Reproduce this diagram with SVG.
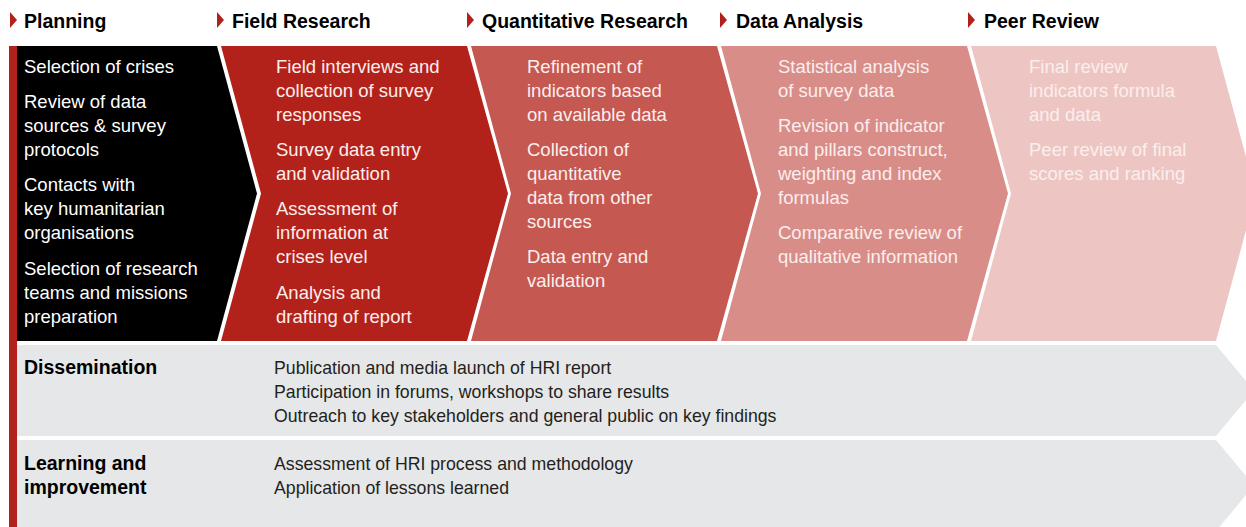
<svg xmlns="http://www.w3.org/2000/svg" width="1246" height="527" viewBox="0 0 1246 527">
<style>
.hdr{font-family:"Liberation Sans",Arial,sans-serif;font-weight:bold;font-size:19.5px;fill:#000}
.tri{fill:#b3221a}
.body{font-family:"Liberation Sans",Arial,sans-serif;font-size:18.5px;fill:#fbeeed}
.w{fill:#ffffff}
.lbl{font-family:"Liberation Sans",Arial,sans-serif;font-weight:bold;font-size:19.5px;fill:#000}
.txt{font-family:"Liberation Sans",Arial,sans-serif;font-size:17.7px;fill:#231f20}
</style>
<rect width="1246" height="527" fill="#ffffff"/>
<g id="headers">
<polygon class="tri" points="10,12 17,20 10,28"/>
<text class="hdr" x="24" y="28">Planning</text>
<polygon class="tri" points="217,12 224,20 217,28"/>
<text class="hdr" x="232" y="28">Field Research</text>
<polygon class="tri" points="467,12 474,20 467,28"/>
<text class="hdr" x="482" y="28">Quantitative Research</text>
<polygon class="tri" points="720,12 727,20 720,28"/>
<text class="hdr" x="736" y="28">Data Analysis</text>
<polygon class="tri" points="968,12 975,20 968,28"/>
<text class="hdr" x="984" y="28">Peer Review</text>
</g>
<rect id="leftbar" x="9" y="46" width="8" height="481" fill="#b3221a"/>
<g id="planning">
<polygon points="17,46 217,46 257,193.5 217,341 17,341" fill="#000000"/>
<text class="body w" x="24" y="73">Selection of crises</text>
<text class="body w" x="24" y="108">Review of data</text>
<text class="body w" x="24" y="132">sources &amp; survey</text>
<text class="body w" x="24" y="156">protocols</text>
<text class="body w" x="24" y="191">Contacts with</text>
<text class="body w" x="24" y="215">key humanitarian</text>
<text class="body w" x="24" y="239">organisations</text>
<text class="body w" x="24" y="275">Selection of research</text>
<text class="body w" x="24" y="299">teams and missions</text>
<text class="body w" x="24" y="323">preparation</text>
</g>
<g id="field-research">
<polygon points="221,46 467,46 508,193.5 467,341 221,341 261,193.5" fill="#b3221a"/>
<text class="body" x="276" y="73">Field interviews and</text>
<text class="body" x="276" y="97">collection of survey</text>
<text class="body" x="276" y="121">responses</text>
<text class="body" x="276" y="156">Survey data entry</text>
<text class="body" x="276" y="180">and validation</text>
<text class="body" x="276" y="215">Assessment of</text>
<text class="body" x="276" y="239">information at</text>
<text class="body" x="276" y="263">crises level</text>
<text class="body" x="276" y="299">Analysis and</text>
<text class="body" x="276" y="323">drafting of report</text>
</g>
<g id="quantitative-research">
<polygon points="471,46 717,46 758,193.5 717,341 471,341 511,193.5" fill="#c55850"/>
<text class="body" x="527" y="73">Refinement of</text>
<text class="body" x="527" y="97">indicators based</text>
<text class="body" x="527" y="121">on available data</text>
<text class="body" x="527" y="156">Collection of</text>
<text class="body" x="527" y="180">quantitative</text>
<text class="body" x="527" y="204">data from other</text>
<text class="body" x="527" y="228">sources</text>
<text class="body" x="527" y="263">Data entry and</text>
<text class="body" x="527" y="287">validation</text>
</g>
<g id="data-analysis">
<polygon points="721,46 967,46 1008,193.5 967,341 721,341 761,193.5" fill="#d88d88"/>
<text class="body" x="778" y="73">Statistical analysis</text>
<text class="body" x="778" y="97">of survey data</text>
<text class="body" x="778" y="132">Revision of indicator</text>
<text class="body" x="778" y="156">and pillars construct,</text>
<text class="body" x="778" y="180">weighting and index</text>
<text class="body" x="778" y="204">formulas</text>
<text class="body" x="778" y="239">Comparative review of</text>
<text class="body" x="778" y="263">qualitative information</text>
</g>
<g id="peer-review">
<polygon points="971,46 1216,46 1256,193.5 1216,341 971,341 1011,193.5" fill="#edc6c3"/>
<text class="body" x="1029" y="73">Final review</text>
<text class="body" x="1029" y="97">indicators formula</text>
<text class="body" x="1029" y="121">and data</text>
<text class="body" x="1029" y="156">Peer review of final</text>
<text class="body" x="1029" y="180">scores and ranking</text>
</g>
<g id="dissemination">
<polygon points="17,345 1216,345 1254,390.5 1216,436 17,436" fill="#e6e7e8"/>
<text class="lbl" x="24" y="374">Dissemination</text>
<text class="txt" x="274" y="374">Publication and media launch of HRI report</text>
<text class="txt" x="274" y="398">Participation in forums, workshops to share results</text>
<text class="txt" x="274" y="422">Outreach to key stakeholders and general public on key findings</text>
</g>
<g id="learning">
<polygon points="17,440 1216,440 1254,485.5 1216,531 17,531" fill="#e6e7e8"/>
<text class="lbl" x="24" y="470">Learning and</text>
<text class="lbl" x="24" y="494">improvement</text>
<text class="txt" x="274" y="470">Assessment of HRI process and methodology</text>
<text class="txt" x="274" y="494">Application of lessons learned</text>
</g>
<g id="connectors"></g>
</svg>
